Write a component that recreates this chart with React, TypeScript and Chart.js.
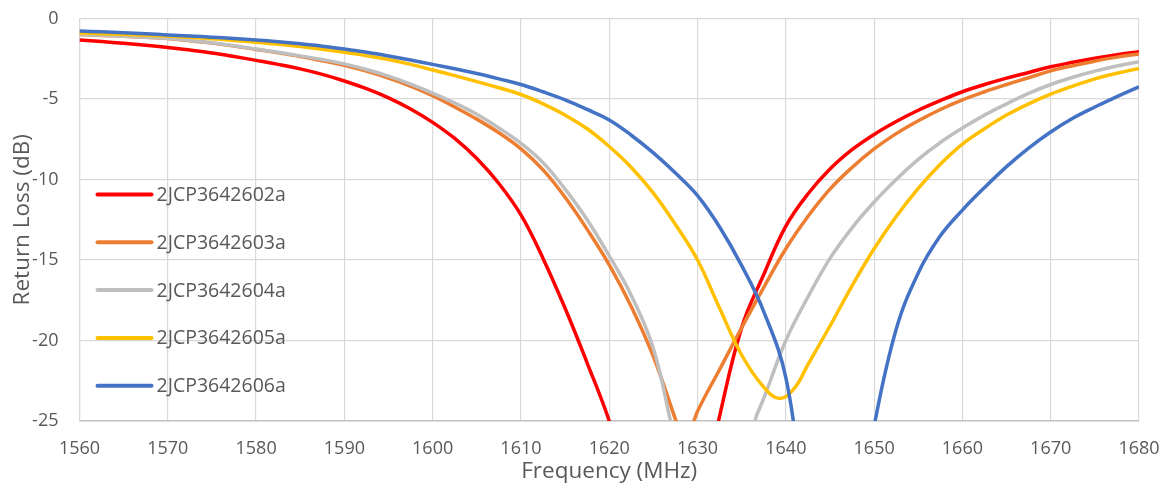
import React, { useEffect, useRef } from "react";
import { Chart, registerables } from "chart.js";

Chart.register(...registerables);

const seriesNames = ["2JCP3642602a", "2JCP3642603a", "2JCP3642604a", "2JCP3642605a", "2JCP3642606a"];
const seriesColors = ["#FF0000", "#ED7D31", "#BFBFBF", "#FFC000", "#4472C4"];

const freqGrid = [
  1560, 1562.5, 1565, 1567.5, 1570, 1572.5, 1575, 1577.5, 1580, 1582.5, 1585, 1587.5, 1590, 1592.5, 1595, 1597.5,
  1600, 1602.5, 1605, 1607.5, 1610, 1612.5, 1615, 1617.5, 1620, 1622.5, 1625, 1627.5, 1630, 1632.5, 1635, 1637.5,
  1640, 1642.5, 1645, 1647.5, 1650, 1652.5, 1655, 1657.5, 1660, 1662.5, 1665, 1667.5, 1670, 1672.5, 1675, 1677.5, 1680,
];

const freq2603 = [
  1560, 1562.5, 1565, 1567.5, 1570, 1572.5, 1575, 1577.5, 1580, 1582.5, 1585, 1587.5, 1590, 1592.5, 1595, 1597.5,
  1600, 1602.5, 1605, 1607.5, 1610, 1612.5, 1615, 1617.5, 1620, 1622.5, 1625, 1627.5, 1628.5, 1630, 1632.5, 1635, 1637.5,
  1640, 1642.5, 1645, 1647.5, 1650, 1652.5, 1655, 1657.5, 1660, 1662.5, 1665, 1667.5, 1670, 1672.5, 1675, 1677.5, 1680,
];

const freq2604 = [
  1560, 1562.5, 1565, 1567.5, 1570, 1572.5, 1575, 1577.5, 1580, 1582.5, 1585, 1587.5, 1590, 1592.5, 1595, 1597.5,
  1600, 1602.5, 1605, 1607.5, 1610, 1612.5, 1615, 1617.5, 1620, 1622.5, 1625, 1627.5, 1630, 1632.5, 1635, 1636.5, 1637.5,
  1640, 1642.5, 1645, 1647.5, 1650, 1652.5, 1655, 1657.5, 1660, 1662.5, 1665, 1667.5, 1670, 1672.5, 1675, 1677.5, 1680,
];

const freq2605 = [
  1560, 1562.5, 1565, 1567.5, 1570, 1572.5, 1575, 1577.5, 1580, 1582.5, 1585, 1587.5, 1590, 1592.5, 1595, 1597.5,
  1600, 1602.5, 1605, 1607.5, 1610, 1612.5, 1615, 1617.5, 1620, 1622.5, 1625, 1627.5, 1630, 1632.5, 1635, 1637.5,
  1639.3, 1641, 1642.5, 1645, 1647.5, 1650, 1652.5, 1655, 1657.5, 1660, 1662.5, 1665, 1667.5, 1670, 1672.5, 1675, 1677.5, 1680,
];

const db2602 = [
  -1.33, -1.43, -1.54, -1.66, -1.8, -1.96, -2.14, -2.36, -2.6, -2.85, -3.13, -3.47, -3.88, -4.36, -4.93, -5.62,
  -6.45, -7.45, -8.7, -10.25, -12.2, -14.9, -18.0, -21.4, -25.0, -29.5, -33, -34, -31, -24.7, -19.2, -15.9,
  -12.9, -10.9, -9.35, -8.15, -7.2, -6.4, -5.7, -5.1, -4.55, -4.1, -3.7, -3.35, -3.0, -2.72, -2.47, -2.25, -2.06,
];

const db2603 = [
  -1.0, -1.05, -1.11, -1.17, -1.25, -1.38, -1.53, -1.71, -1.92, -2.13, -2.36, -2.62, -2.9, -3.27, -3.7, -4.2,
  -4.8, -5.5, -6.25, -7.1, -8.1, -9.4, -11.1, -13.1, -15.3, -17.9, -21.0, -24.9, -26.5, -24.4, -21.8, -19.2, -16.7,
  -14.3, -12.3, -10.6, -9.25, -8.1, -7.15, -6.35, -5.65, -5.05, -4.55, -4.1, -3.68, -3.25, -2.93, -2.65, -2.4, -2.2,
];

const db2604 = [
  -1.0, -1.04, -1.1, -1.16, -1.23, -1.36, -1.51, -1.69, -1.9, -2.1, -2.32, -2.55, -2.82, -3.17, -3.58, -4.07,
  -4.63, -5.25, -5.95, -6.8, -7.75, -8.95, -10.6, -12.5, -14.75, -17.2, -20.5, -26.3, -31, -33, -29.5, -25, -23.6,
  -20, -17.3, -14.9, -13.0, -11.4, -10.0, -8.75, -7.7, -6.8, -6.0, -5.3, -4.65, -4.1, -3.65, -3.27, -2.95, -2.68,
];

const db2605 = [
  -0.9, -0.94, -0.99, -1.04, -1.09, -1.17, -1.26, -1.36, -1.48, -1.6, -1.74, -1.91, -2.1, -2.31, -2.55, -2.85,
  -3.2, -3.55, -3.92, -4.3, -4.72, -5.3, -6.0, -6.85, -7.95, -9.25, -10.85, -12.8, -15.0, -18.0, -20.9, -22.9,
  -23.6, -22.95, -21.5, -19.1, -16.6, -14.3, -12.3, -10.55, -9.05, -7.8, -6.85, -6.0, -5.3, -4.7, -4.2, -3.75, -3.4, -3.1,
];

const db2606 = [
  -0.77, -0.83, -0.89, -0.95, -1.02, -1.09, -1.16, -1.24, -1.33, -1.44, -1.57, -1.72, -1.9, -2.1, -2.33, -2.58,
  -2.85, -3.12, -3.42, -3.75, -4.1, -4.55, -5.05, -5.65, -6.3, -7.25, -8.35, -9.6, -11.0, -12.95, -15.35, -18.2,
  -22.3, -31, -35, -33, -25.3, -19.3, -15.8, -13.5, -11.9, -10.5, -9.2, -8.05, -7.05, -6.2, -5.5, -4.85, -4.24,
];

const seriesFreqs = [freqGrid, freq2603, freq2604, freq2605, freqGrid];
const seriesDb = [db2602, db2603, db2604, db2605, db2606];

const xTicks = { min: 1560, max: 1680, step: 10 };
const yTicks = { min: -25, max: 0, step: 5 };

const FONT = '"Open Sans", "Liberation Sans", sans-serif';
const TEXT = "#595959";

const insideLegend = {
  id: "insideLegend",
  afterDatasetsDraw(chart: any) {
    const { ctx, chartArea } = chart;
    ctx.save();
    chart.data.datasets.forEach((ds: any, i: number) => {
      const y = chartArea.top + 176 + i * 47.8;
      const x0 = chartArea.left + 18;
      ctx.strokeStyle = ds.borderColor;
      ctx.lineWidth = 4;
      ctx.lineCap = "round";
      ctx.beginPath();
      ctx.moveTo(x0, y);
      ctx.lineTo(x0 + 54, y);
      ctx.stroke();
      ctx.fillStyle = TEXT;
      ctx.font = `19.5px ${FONT}`;
      ctx.textBaseline = "middle";
      ctx.textAlign = "left";
      ctx.fillText(ds.label, x0 + 59, y + 1);
    });
    ctx.restore();
  },
};

const zeroPad = (s: any) => {
  s.paddingTop = 0;
  s.paddingBottom = 0;
  s.paddingLeft = 0;
  s.paddingRight = 0;
};

export default function App() {
  const ref = useRef<HTMLCanvasElement | null>(null);
  useEffect(() => {
    if (!ref.current) return;
    const datasets = seriesNames.map((name, i) => ({
      label: name,
      data: seriesFreqs[i].map((f, k) => ({ x: f, y: seriesDb[i][k] })),
      borderColor: seriesColors[i],
      backgroundColor: seriesColors[i],
      borderWidth: 3.5,
      pointRadius: 0,
      fill: false,
      tension: 0.4,
      order: seriesNames.length - 1 - i,
    }));
    const chart = new Chart(ref.current, {
      type: "line",
      data: { datasets },
      plugins: [insideLegend],
      options: {
        animation: false,
        responsive: false,
        maintainAspectRatio: false,
        layout: { padding: { top: 18.5, right: 29, left: 0, bottom: 0 } },
        plugins: { legend: { display: false }, tooltip: { enabled: false } },
        scales: {
          x: {
            type: "linear",
            min: xTicks.min,
            max: xTicks.max,
            ticks: {
              stepSize: xTicks.step,
              color: TEXT,
              font: { family: FONT, size: 18 },
              padding: 17,
              maxRotation: 0,
              callback: (v: any) => String(v),
            },
            grid: { color: "#d9d9d9", drawTicks: false, lineWidth: 1.2 },
            border: { color: "#c4c4c4", width: 1.5 },
            title: { display: true, text: "Frequency (MHz)", color: TEXT, font: { family: FONT, size: 22.5 }, padding: { top: 0, bottom: 6 } },
            afterFit: (s: any) => {
              s.height = 70;
              zeroPad(s);
            },
          },
          y: {
            min: yTicks.min,
            max: yTicks.max,
            ticks: { stepSize: yTicks.step, color: TEXT, font: { family: FONT, size: 18 }, padding: 21, callback: (v: any) => String(v) },
            grid: { color: "#d9d9d9", drawTicks: false, lineWidth: 1.2 },
            border: { color: "#d9d9d9", width: 1.2 },
            title: { display: true, text: "Return Loss (dB)", color: TEXT, font: { family: FONT, size: 22.5 }, padding: { top: 9, bottom: 0 } },
            afterFit: (s: any) => {
              s.width = 79.5;
              zeroPad(s);
            },
          },
        },
      },
    });
    return () => chart.destroy();
  }, []);
  return (
    <div style={{ position: "absolute", left: 0, top: 0, width: 1168, height: 491, background: "#fff" }}>
      <canvas ref={ref} width={1168} height={491} style={{ width: 1168, height: 491 }} />
    </div>
  );
}
